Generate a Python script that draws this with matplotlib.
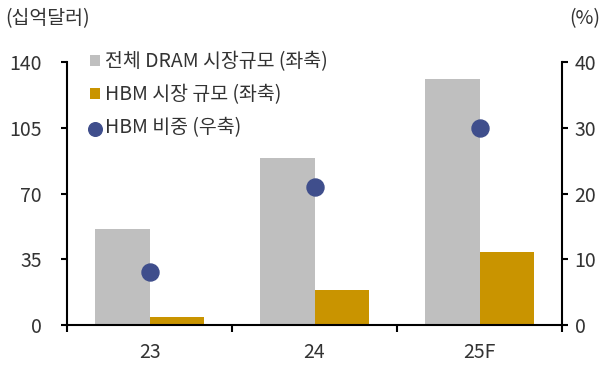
import numpy as np
import matplotlib
matplotlib.use("Agg")
import matplotlib.pyplot as plt

plt.rcParams['font.family'] = ['Noto Sans CJK KR', 'DejaVu Sans']

categories = ["23", "24", "25F"]
dram_total = [51, 89, 131]      # 십억달러, left axis
hbm_market = [4, 18.6, 39]      # 십억달러, left axis
hbm_share = [8, 21, 30]         # %, right axis

GRAY = "#bfbfbf"
GOLD = "#c99400"
NAVY = "#3f4e8c"
TEXT = "#333333"
FS = 14

fig = plt.figure(figsize=(6.06, 3.70), dpi=100)
ax = fig.add_axes([0.1106, 0.1216, 0.8168, 0.7108])
ax2 = ax.twinx()

x = np.arange(len(categories))
w = 0.33
ax.bar(x - w / 2, dram_total, w, color=GRAY, label="전체 DRAM 시장규모 (좌축)", zorder=2)
ax.bar(x + w / 2, hbm_market, w, color=GOLD, label="HBM 시장 규모 (좌축)", zorder=2)
ax2.scatter(x, hbm_share, s=150, color=NAVY, zorder=3, label="HBM 비중 (우축)")

ax.set_xlim(-0.5, 2.5)
ax.set_ylim(0, 140)
ax2.set_ylim(0, 40)
ax.set_yticks([0, 35, 70, 105, 140])
ax2.set_yticks([0, 10, 20, 30, 40])
ax.set_xticks(x)
ax.set_xticklabels(categories)
ax.set_xticks([-0.5, 0.5, 1.5, 2.5], minor=True)
ax.tick_params(axis="x", which="major", length=0, pad=12, labelsize=FS, labelcolor=TEXT)
ax.tick_params(axis="x", which="minor", length=5, width=1.5, direction="out")
ax.tick_params(axis="y", length=4, width=1.5, labelsize=FS, labelcolor=TEXT, pad=14)
ax2.tick_params(axis="y", length=4, width=1.5, labelsize=FS, labelcolor=TEXT, pad=5)

for a in (ax, ax2):
    a.spines["top"].set_visible(False)
    for s in ("left", "right", "bottom"):
        a.spines[s].set_linewidth(1.5)
        a.spines[s].set_color("black")
ax2.spines["left"].set_visible(False)
ax2.spines["bottom"].set_visible(False)
ax.spines["right"].set_visible(False)

fig.text(0.008, 0.95, "(십억달러)", fontsize=FS, color=TEXT, va="center")
fig.text(0.99, 0.95, "(%)", fontsize=FS, color=TEXT, va="center", ha="right")

h1, l1 = ax.get_legend_handles_labels()
h2, l2 = ax2.get_legend_handles_labels()
leg = ax.legend(h1 + h2, l1 + l2, loc="upper left", bbox_to_anchor=(0.03, 1.07),
                frameon=False, fontsize=14, handlelength=0.55, handleheight=0.55,
                handletextpad=0.25, labelspacing=0.62, borderaxespad=0,
                markerscale=0.8)
for t in leg.get_texts():
    t.set_color(TEXT)

fig.savefig("out.png", dpi=100, facecolor="white")
plt.close(fig)
